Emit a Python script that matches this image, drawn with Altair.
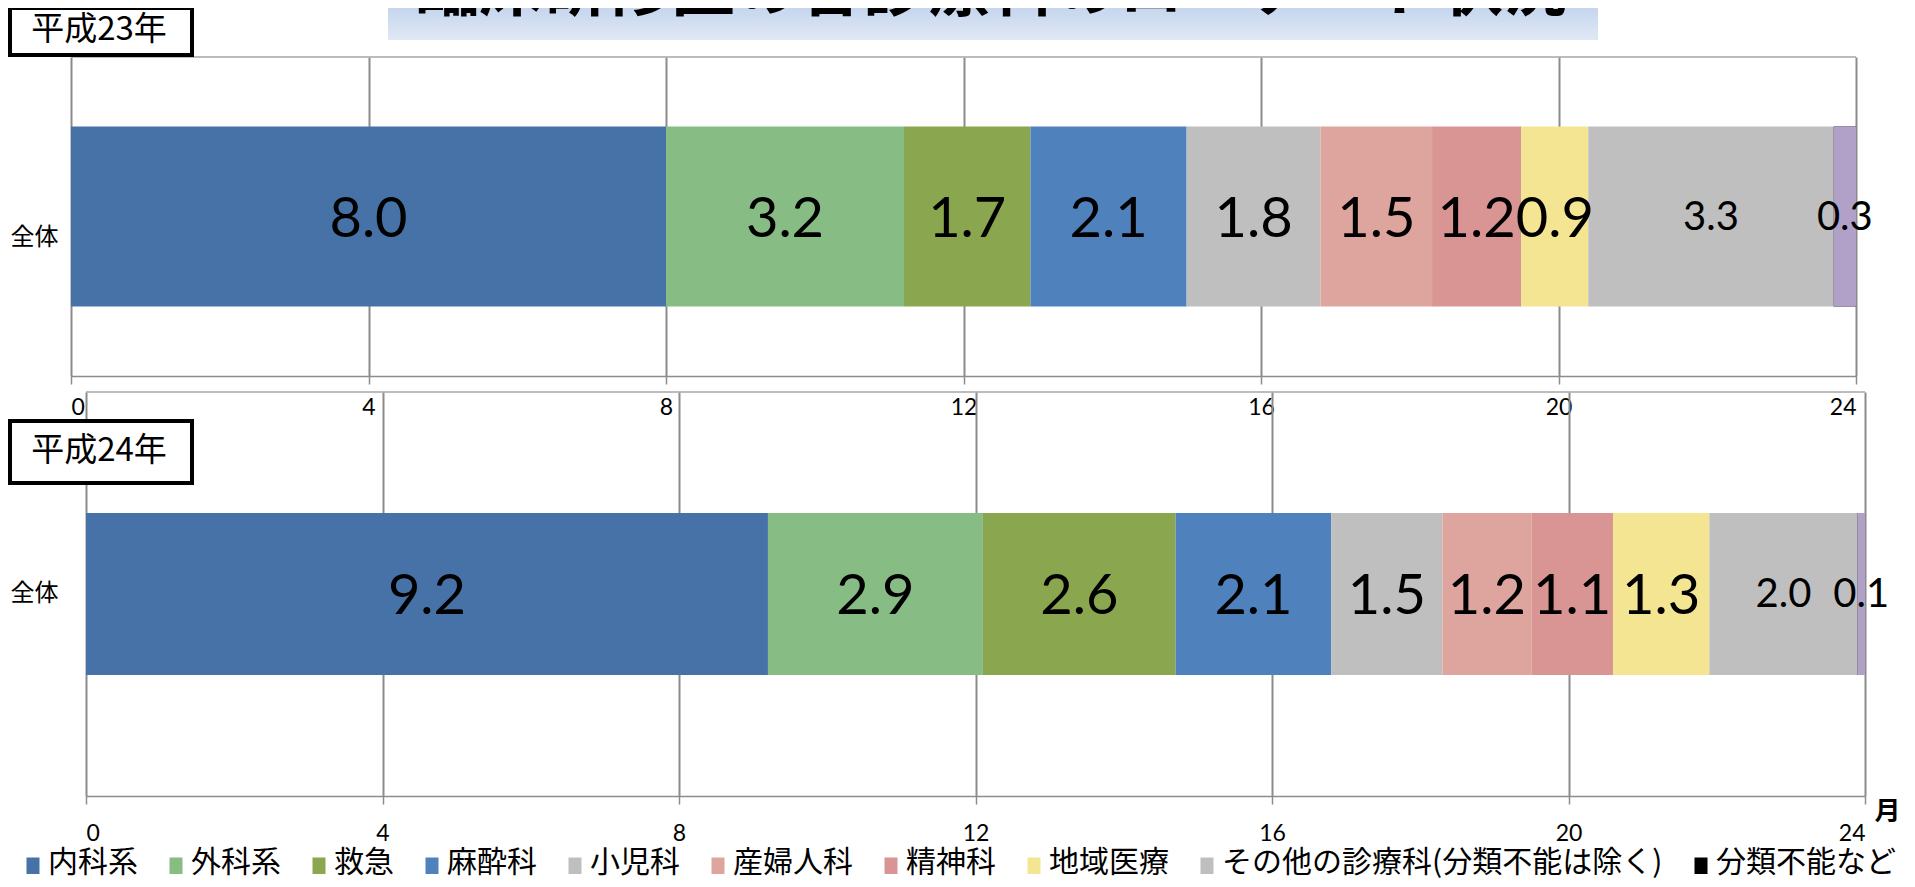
import json
import altair as alt
import pandas as pd

# ---------------- data ----------------
TITLE = "臨床研修医の各診療科のローテート状況"
ROW_LABEL = "全体"
YEAR_LABELS = ["平成23年", "平成24年"]
CATEGORIES = [
    "内科系", "外科系", "救急", "麻酔科", "小児科", "産婦人科",
    "精神科", "地域医療", "その他の診療科(分類不能は除く)", "分類不能など",
]
H23_VALUES = [8.0, 3.2, 1.7, 2.1, 1.8, 1.5, 1.2, 0.9, 3.3, 0.3]
H24_VALUES = [9.2, 2.9, 2.6, 2.1, 1.5, 1.2, 1.1, 1.3, 2.0, 0.1]
X_TICKS = [0, 4, 8, 12, 16, 20, 24]
X_DOMAIN = [0, 24]
UNIT_LABEL = "月"

# ---------------- style ----------------
LEGEND_COLORS = ["#4672A8", "#87BD84", "#8AA64F", "#4F81BD", "#BFBFBF",
                 "#DDA59D", "#D99594", "#F4E593", "#BFBFBF", "#000000"]
UNCLASSIFIED_BAR_COLOR = "#B1A0C7"
SMALL_LABEL_CATS = CATEGORIES[-2:]
CJK = "Noto Sans CJK JP"
NUM = "Lato"
GRID = "#8C8C8C"
W = 1794
CROP_TOP = 120

LEGEND = alt.Legend(
    orient="none", legendX=-53, legendY=840, direction="horizontal",
    columns=10, columnPadding=23, rowPadding=0, padding=0,
    symbolType="M-1.3,-1.1H1.3V2.2H-1.3Z", symbolSize=100,
    symbolStrokeWidth=0, labelFont=CJK, labelFontSize=30,
    labelColor="#000", labelOffset=0, labelLimit=700, title=None,
)


def panel(values, year_label, height, x_range, pad_outer, row_label_offset,
          box_y, box_text_y, bottom):
    df = pd.DataFrame({
        "row": [ROW_LABEL] * len(CATEGORIES),
        "cat": CATEGORIES,
        "value": values,
        "order": list(range(len(CATEGORIES))),
    })
    xscale = alt.Scale(domain=X_DOMAIN, range=x_range, nice=False, zero=False)
    yscale = alt.Scale(domain=[ROW_LABEL], paddingInner=0, paddingOuter=pad_outer)
    base = (
        alt.Chart(df)
        .transform_stack(stack="value", groupby=["row"], as_=["x0", "x1"],
                         sort=[alt.SortField("order", order="ascending")])
        .transform_calculate(mid="(datum.x0 + datum.x1) / 2")
    )
    axis_kw = dict(values=X_TICKS, grid=True, gridColor=GRID, gridWidth=2,
                   domainColor=GRID, domainWidth=1.5, tickColor=GRID,
                   tickWidth=1.5, tickSize=8, labelFont=NUM, labelFontSize=23,
                   labelColor="#000", labelPadding=18 if bottom else 12)
    if bottom:
        axis_kw.update(title=UNIT_LABEL, titleX=1816, titleY=15, titleAngle=0,
                       titleAlign="center", titleBaseline="middle",
                       titleFont=CJK, titleFontSize=26, titleFontWeight="bold",
                       titleColor="#000")
    else:
        axis_kw.update(title=None)
    x_axis = alt.Axis(**axis_kw)
    y_axis = alt.Axis(domain=False, ticks=False, grid=False, labelFont=CJK,
                      labelFontSize=24, labelColor="#000", labelPadding=13,
                      labelOffset=row_label_offset, title=None)

    def X(field):
        return alt.X(field, scale=xscale, axis=x_axis)

    def Y():
        return alt.Y("row:N", scale=yscale, axis=y_axis)

    bars = base.mark_bar().encode(
        x=X("x0:Q"),
        x2="x1:Q",
        y=Y(),
        color=alt.Color("cat:N", scale=alt.Scale(domain=CATEGORIES, range=LEGEND_COLORS),
                        legend=LEGEND),
    )
    overlay = base.transform_filter(
        alt.datum.cat == CATEGORIES[-1]
    ).mark_bar(color=UNCLASSIFIED_BAR_COLOR).encode(x=X("x0:Q"), x2="x1:Q", y=Y())
    small_expr = "indexof(" + json.dumps(SMALL_LABEL_CATS, ensure_ascii=False) + ", datum.cat)"
    big_labels = base.transform_filter(small_expr + " < 0").mark_text(
        font=NUM, fontSize=56, color="#000", baseline="middle", dy=3
    ).encode(x=X("mid:Q"), y=Y(), text=alt.Text("value:Q", format=".1f"))
    small_labels = base.transform_filter(small_expr + " >= 0").mark_text(
        font=NUM, fontSize=40, color="#000", baseline="middle", dy=1
    ).encode(x=X("mid:Q"), y=Y(), text=alt.Text("value:Q", format=".1f"))
    border_df = pd.DataFrame({"start": [X_DOMAIN[0]], "end": [X_DOMAIN[1]]})
    border = alt.Chart(border_df).mark_rule(color="#A6A6A6", strokeWidth=1.5).encode(
        x=X("start:Q"), x2="end:Q", y=alt.value(0)
    )
    box_df = pd.DataFrame({"label": [year_label]})
    box = alt.Chart(box_df).mark_rect(fill="white", stroke="black", strokeWidth=4).encode(
        x=alt.value(-61), x2=alt.value(121), y=alt.value(box_y[0]), y2=alt.value(box_y[1])
    )
    box_text = alt.Chart(box_df).mark_text(
        font=CJK, fontSize=33, color="#000", align="center", baseline="middle"
    ).encode(x=alt.value(28), y=alt.value(box_text_y), text="label:N")
    return alt.layer(bars, overlay, border, big_labels, small_labels, box, box_text).properties(
        width=W, height=height
    )


title_df = pd.DataFrame({"title": [TITLE]})
gradient = {
    "gradient": "linear", "x1": 0, "y1": 0, "x2": 0, "y2": 1,
    "stops": [{"offset": 0, "color": "#C6D6EE"}, {"offset": 1, "color": "#E0E8F5"}],
}
# invisible anchor that fixes the top of the layout bounds (cropped by padding)
anchor = alt.Chart(title_df).mark_rect(opacity=0).encode(
    x=alt.value(400), x2=alt.value(410), y=alt.value(-CROP_TOP), y2=alt.value(-CROP_TOP + 1)
)
title_rect = alt.Chart(title_df).mark_rect(fill=gradient).encode(
    x=alt.value(317), x2=alt.value(1527), y=alt.value(0), y2=alt.value(32)
)
title_text = alt.Chart(title_df).mark_text(
    font=CJK, fontSize=64, fontWeight="bold", color="#000",
    align="center", baseline="alphabetic"
).encode(x=alt.value(920), y=alt.value(2), text="title:N")
title_panel = alt.layer(anchor, title_rect, title_text).properties(width=W, height=33)

top = panel(H23_VALUES, YEAR_LABELS[0], 319, [0, 1785], 0.386, 21, (-49, -2), -27, False)
bottom = panel(H24_VALUES, YEAR_LABELS[1], 404, [15, 1794], 0.747, 0, (29, 91), 59, True)

chart = alt.VConcatChart(
    vconcat=[title_panel, top, bottom],
    spacing=16,
    bounds="flush",
    padding={"left": 0, "top": -CROP_TOP, "right": 0, "bottom": 0},
).configure_view(strokeWidth=0)

chart.save("out.html", embed_options={"renderer": "svg", "actions": False})
